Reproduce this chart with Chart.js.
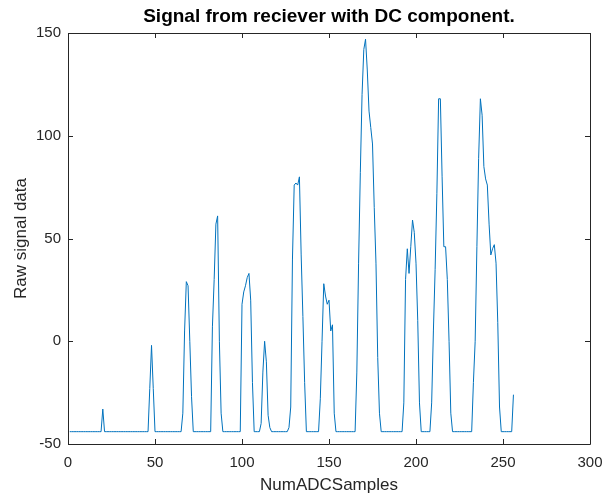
<!DOCTYPE html>
<html>
<head>
<meta charset="utf-8">
<script src="https://cdn.jsdelivr.net/npm/chart.js@4.4.1/dist/chart.umd.min.js"></script>
<style>
    html, body { margin: 0; padding: 0; background: #fff; }
    canvas { display: block; }
</style>
</head>
<body>
<canvas id="signal-graph" width="605" height="495"></canvas>
<script>
// raw ADC samples, one value per sample (sample 1..256)
const rawSignal = [
    -44, -44, -44, -44, -44, -44, -44, -44, -44, -44,
    -44, -44, -44, -44, -44, -44, -44, -44, -44, -33,
    -44, -44, -44, -44, -44, -44, -44, -44, -44, -44,
    -44, -44, -44, -44, -44, -44, -44, -44, -44, -44,
    -44, -44, -44, -44, -44, -44, -23, -2, -23, -44,
    -44, -44, -44, -44, -44, -44, -44, -44, -44, -44,
    -44, -44, -44, -44, -44, -35, 5, 29, 27, 0,
    -27, -44, -44, -44, -44, -44, -44, -44, -44, -44,
    -44, -44, 7, 30, 57, 61, 0, -35, -44, -44,
    -44, -44, -44, -44, -44, -44, -44, -44, -44, 18,
    24, 27, 31, 33, 20, -20, -44, -44, -44, -44,
    -40, -15, 0, -10, -36, -42, -44, -44, -44, -44,
    -44, -44, -44, -44, -44, -44, -42, -32, 40, 76,
    77, 76, 80, 42, 12, -20, -44, -44, -44, -44,
    -44, -44, -44, -44, -28, 0, 28, 22, 18, 20,
    5, 8, -35, -44, -44, -44, -44, -44, -44, -44,
    -44, -44, -44, -44, -44, -15, 38, 82, 120, 142,
    147, 132, 112, 104, 96, 65, 38, -8, -35, -44,
    -44, -44, -44, -44, -44, -44, -44, -44, -44, -44,
    -44, -44, -30, 30, 45, 33, 46, 59, 53, 38,
    10, -30, -44, -44, -44, -44, -44, -44, -30, 5,
    35, 72, 118, 118, 80, 46, 46, 30, 0, -35,
    -44, -44, -44, -44, -44, -44, -44, -44, -44, -44,
    -44, -44, -20, 0, 46, 89, 118, 110, 85, 79,
    76, 57, 42, 45, 47, 38, 9, -32, -44, -44,
    -44, -44, -44, -44, -44, -26
];
const xTicks = [0, 50, 100, 150, 200, 250, 300];
const yTicks = [-50, 0, 50, 100, 150];

const fontFamily = '"Liberation Sans", Arial, Helvetica, sans-serif';
const axisColor = '#262626';

// MATLAB style box with inward ticks on all four sides
const boxPlugin = {
    id: 'matlabBox',
    afterDraw(chart) {
        const { ctx, chartArea: a, scales: { x, y } } = chart;
        const len = 5;
        ctx.save();
        ctx.strokeStyle = axisColor;
        ctx.lineWidth = 1;
        ctx.beginPath();
        ctx.rect(a.left + 0.5, a.top + 0.5, a.right - a.left, a.bottom - a.top);
        xTicks.forEach(v => {
            const px = Math.round(x.getPixelForValue(v)) + 0.5;
            ctx.moveTo(px, a.bottom);
            ctx.lineTo(px, a.bottom - len);
            ctx.moveTo(px, a.top);
            ctx.lineTo(px, a.top + len);
        });
        yTicks.forEach(v => {
            const py = Math.round(y.getPixelForValue(v)) + 0.5;
            ctx.moveTo(a.left, py);
            ctx.lineTo(a.left + len, py);
            ctx.moveTo(a.right, py);
            ctx.lineTo(a.right - len, py);
        });
        ctx.stroke();
        ctx.restore();
    }
};

function renderSignal() {
    const ctx = document.getElementById('signal-graph').getContext('2d');
    new Chart(ctx, {
        type: 'line',
        data: {
            datasets: [{
                label: 'Raw signal',
                data: rawSignal.map((v, i) => ({ x: i + 1, y: v })),
                borderColor: '#0072BD',
                borderWidth: 1,
                pointRadius: 0,
                tension: 0,
                fill: false
            }]
        },
        options: {
            responsive: false,
            animation: false,
            layout: { padding: { left: 0, right: 15, top: 0, bottom: 0 } },
            plugins: {
                legend: { display: false },
                tooltip: { enabled: false },
                title: {
                    display: true,
                    fullSize: false,
                    text: 'Signal from reciever with DC component.',
                    color: '#000',
                    font: { family: fontFamily, size: 19, weight: 'bold', lineHeight: 1.2 },
                    padding: { top: 5.3, bottom: 4.9 }
                }
            },
            scales: {
                x: {
                    type: 'linear',
                    min: 0,
                    max: 300,
                    afterBuildTicks: s => { s.ticks = xTicks.map(v => ({ value: v })); },
                    afterFit: s => {
                        s.height = 51;
                        s.paddingLeft = 0;
                        s.paddingRight = 0;
                    },
                    grid: { display: false, drawTicks: false },
                    border: { display: false },
                    ticks: {
                        color: axisColor,
                        padding: 10,
                        maxRotation: 0,
                        font: { family: fontFamily, size: 15 }
                    },
                    title: {
                        display: true,
                        text: 'NumADCSamples',
                        color: axisColor,
                        font: { family: fontFamily, size: 17, lineHeight: 1.1 },
                        padding: { top: 0, bottom: 0 }
                    }
                },
                y: {
                    min: -50,
                    max: 150,
                    afterBuildTicks: s => { s.ticks = yTicks.map(v => ({ value: v })); },
                    afterFit: s => {
                        s.width = 68;
                        s.paddingTop = 0;
                        s.paddingBottom = 0;
                    },
                    grid: { display: false, drawTicks: false },
                    border: { display: false },
                    ticks: {
                        color: axisColor,
                        padding: 7,
                        font: { family: fontFamily, size: 15 }
                    },
                    title: {
                        display: true,
                        text: 'Raw signal data',
                        color: axisColor,
                        font: { family: fontFamily, size: 17, lineHeight: 1.2 },
                        padding: { top: 11, bottom: 0 }
                    }
                }
            }
        },
        plugins: [boxPlugin]
    });
}

window.onload = renderSignal;
</script>
</body>
</html>
